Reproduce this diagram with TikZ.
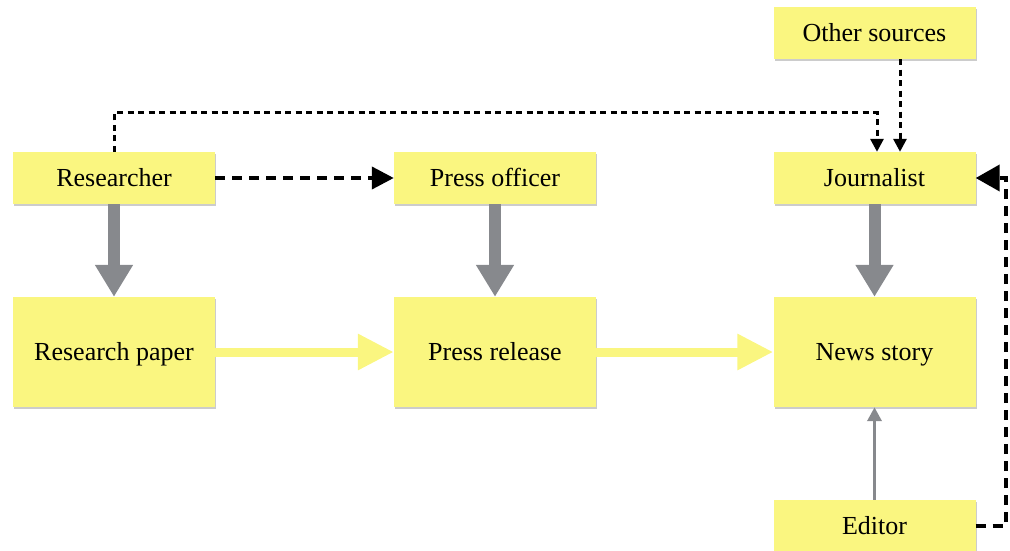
\documentclass[tikz,border=0pt]{standalone}
\usepackage{fontspec}
\setmainfont{Liberation Serif}
\usetikzlibrary{arrows.meta,shadows}
\definecolor{boxyellow}{RGB}{250,246,128}
\definecolor{arrowgray}{RGB}{135,137,141}
\begin{document}
\begin{tikzpicture}[x=1pt,y=-1pt,
  box/.style={rectangle, fill=boxyellow, minimum width=202pt, minimum height=52pt, inner sep=0pt,
    font=\fontsize{26}{30}\selectfont, text height=17pt, text depth=0pt,
    drop shadow={shadow xshift=1pt, shadow yshift=-2pt, fill=black, opacity=0.2}},
  bigbox/.style={box, minimum height=110pt},
  graythick/.style={draw=arrowgray, line width=12pt, -{Triangle[length=32pt,width=36pt]}},
  yellowarrow/.style={draw=boxyellow, line width=9pt, -{Triangle[length=36pt,width=34pt]},
    preaction={draw=black!22, transform canvas={shift={(1pt,-2pt)}}}},
  thickdash/.style={line width=4pt, dash pattern=on 10pt off 7pt, -{Triangle[length=22pt,width=22pt]}},
  bigdash/.style={line width=4pt, dash pattern=on 10pt off 7pt, -{Triangle[length=24pt,width=26pt]}},
  thindash/.style={line width=3pt, dash pattern=on 6pt off 4.5pt, -{Triangle[length=13pt,width=13pt]}},
  graythin/.style={draw=arrowgray, line width=3.5pt, -{Triangle[length=14pt,width=14pt]}}
]
\useasboundingbox (0,0) rectangle (1010,551);

\node[box] (res) at (114,178) {Researcher};
\node[box] (po) at (495,178) {Press officer};
\node[box] (jou) at (874.5,178) {Journalist};
\node[box] (oth) at (874.5,33) {Other sources};
\node[bigbox] (rp) at (114,352) {Research paper};
\node[bigbox] (pr) at (495,352) {Press release};
\node[bigbox] (ns) at (874.5,352) {News story};
\node[box] (ed) at (874.5,526) {Editor};

\draw[graythick] (res) -- (rp);
\draw[graythick] (po) -- (pr);
\draw[graythick] (jou) -- (ns);

\draw[yellowarrow] (rp) -- (pr);
\draw[yellowarrow] (pr) -- (ns);

\draw[thickdash] (res) -- (po);
\draw[bigdash] (ed.east) -- ++(30,0) |- (jou.east);

\draw[thindash] (res.north) -- ++(0,-39) -| ([xshift=2.5pt]jou.north);
\draw[thindash] ([xshift=25.5pt]oth.south) -- ([xshift=25.5pt]jou.north);

\draw[graythin] (ed) -- (ns);
\end{tikzpicture}
\end{document}
